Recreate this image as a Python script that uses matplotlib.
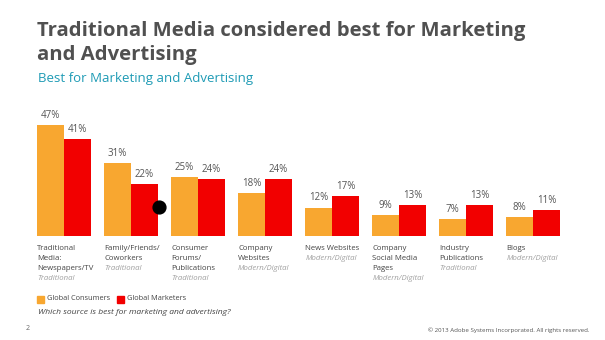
import numpy as np
import matplotlib.pyplot as plt

categories = ["Traditional\nMedia:\nNewspapers/TV", "Family/Friends/\nCoworkers",
              "Consumer\nForums/\nPublications", "Company\nWebsites", "News Websites",
              "Company\nSocial Media\nPages", "Industry\nPublications", "Blogs"]
kinds = ["Traditional", "Traditional", "Traditional", "Modern/Digital", "Modern/Digital",
         "Modern/Digital", "Traditional", "Modern/Digital"]
consumers = [47, 31, 25, 18, 12, 9, 7, 8]
marketers = [41, 22, 24, 24, 17, 13, 13, 11]

ORANGE = "#F8A730"
RED = "#F20000"
W, H = 605, 340


def fx(px):
    return px / W


def fy(py):
    return 1 - py / H


fig = plt.figure(figsize=(W / 100, H / 100), dpi=100)
fig.patch.set_facecolor("white")
ax = fig.add_axes([fx(37), fy(236), fx(560) - fx(37), (236 - 125) / H])
x = np.arange(len(categories))
bw = 0.4
ax.bar(x - bw / 2, consumers, bw, color=ORANGE, linewidth=0)
ax.bar(x + bw / 2, marketers, bw, color=RED, linewidth=0)
ax.set_xlim(-0.4, len(categories) - 0.6)
ax.set_ylim(0, 47)
ax.axis("off")

for i in range(len(categories)):
    for off, v in ((-bw / 2, consumers[i]), (bw / 2, marketers[i])):
        ax.annotate(f"{v}%", (x[i] + off, v), xytext=(0, 3), textcoords="offset points",
                    ha="center", va="bottom", fontsize=7, color="#555555",
                    family="Open Sans", annotation_clip=False)
    # one line at a time, 10 px apart
    lines = categories[i].split("\n") + [kinds[i]]
    for k, line in enumerate(lines):
        last = k == len(lines) - 1
        ax.annotate(line, (x[i] - 0.4, 0), xytext=(0, -10.1 - 7.2 * k),
                    textcoords="offset points", ha="left", va="baseline", fontsize=5.6,
                    color="#A0A0A0" if last else "#444444",
                    style="italic" if last else "normal",
                    family="Open Sans", annotation_clip=False)

# cursor dot
ax.scatter([1.42], [12.3], s=85, color="black", zorder=5, clip_on=False)

fig.text(fx(37), fy(36), "Traditional Media considered best for Marketing",
         fontsize=14.6, fontweight="bold", color="#505050", family="Open Sans",
         va="baseline", ha="left")
fig.text(fx(37), fy(60), "and Advertising",
         fontsize=14.6, fontweight="bold", color="#505050", family="Open Sans",
         va="baseline", ha="left")
fig.text(fx(38), fy(82), "Best for Marketing and Advertising", fontsize=9.5,
         color="#1E9BB5", family="Open Sans", va="baseline", ha="left")

# legend
fig.patches.append(plt.Rectangle((fx(37), fy(303)), 7 / W, 7 / H, color=ORANGE,
                                 transform=fig.transFigure, figure=fig))
fig.text(fx(47), fy(299), "Global Consumers", fontsize=5.3, color="#444444",
         family="Open Sans", va="center")
fig.text(fx(127), fy(299), "Global Marketers", fontsize=5.3, color="#444444",
         family="Open Sans", va="center")
fig.patches.append(plt.Rectangle((fx(117), fy(303)), 7 / W, 7 / H, color=RED,
                                 transform=fig.transFigure, figure=fig))
fig.text(fx(38), fy(312), "Which source is best for marketing and advertising?", fontsize=6.1,
         color="#444444", style="italic", family="Open Sans", va="center")
fig.text(fx(26), fy(328), "2", fontsize=5, color="#666666", family="Open Sans", va="center")
fig.text(fx(590), fy(330), "\u00a9 2013 Adobe Systems Incorporated. All rights reserved.",
         fontsize=4.4, color="#555555", family="Open Sans", va="center", ha="right")

fig.savefig("out.png", dpi=100, facecolor="white")
